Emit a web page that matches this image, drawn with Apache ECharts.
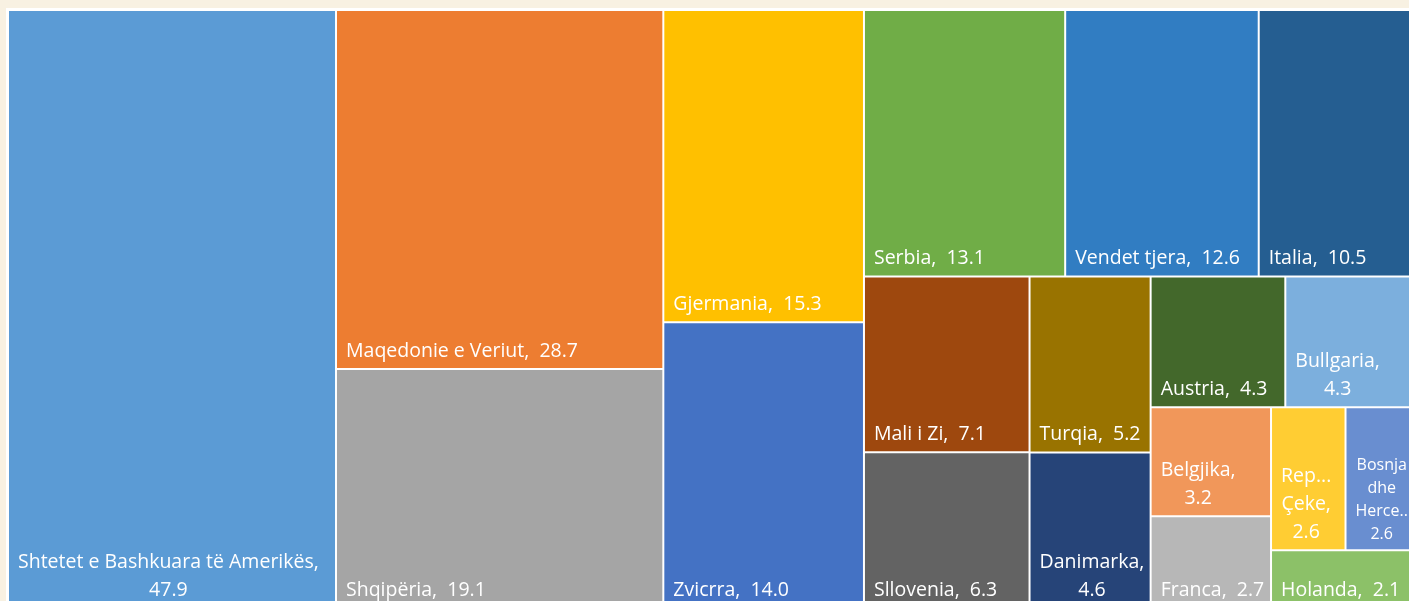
<!DOCTYPE html>
<html>
<head>
<meta charset="utf-8">
<script src="https://cdn.jsdelivr.net/npm/echarts@6/dist/echarts.min.js"></script>
<style>
  html, body { margin: 0; padding: 0; background: #f8f1e2; }
  #main { width: 1409px; height: 601px; }
</style>
</head>
<body>
<div id="main"></div>
<script>
// vendet (renditja si ne grafik)
var vendet = ['Shtetet e Bashkuara të Amerikës', 'Maqedonie e Veriut', 'Shqipëria', 'Gjermania', 'Zvicrra',
  'Serbia', 'Vendet tjera', 'Italia', 'Mali i Zi', 'Sllovenia', 'Turqia', 'Danimarka', 'Austria',
  'Bullgaria', 'Belgjika', 'Franca', 'Republika Çeke', 'Bosnja dhe Hercegovina', 'Holanda'];
var vlerat = [47.9, 28.7, 19.1, 15.3, 14.0, 13.1, 12.6, 10.5, 7.1, 6.3, 5.2, 4.6, 4.3, 4.3, 3.2, 2.7, 2.6, 2.6, 2.1];
var ngjyrat = ['#5b9bd5', '#ed7d31', '#a5a5a5', '#ffc000', '#4472c4', '#70ad47', '#317dc2', '#255e91',
  '#9e480e', '#636363', '#997300', '#264478', '#43682b', '#7cafdd', '#f1975a', '#b7b7b7', '#ffcd33',
  '#698ed0', '#8cc168'];
// etiketat ashtu si shfaqen (me rreshta te thyer), {v} = vlera
var etiketat = ['Shtetet e Bashkuara të Amerikës,\n{v}', 'Maqedonie e Veriut,  {v}', 'Shqipëria,  {v}',
  'Gjermania,  {v}', 'Zvicrra,  {v}', 'Serbia,  {v}', 'Vendet tjera,  {v}', 'Italia,  {v}',
  'Mali i Zi,  {v}', 'Sllovenia,  {v}', 'Turqia,  {v}', 'Danimarka,\n{v}', 'Austria,  {v}',
  'Bullgaria,\n{v}', 'Belgjika,\n{v}', 'Franca,  {v}', 'Rep...\nÇeke,\n{v}', 'Bosnja\ndhe\nHerce..\n{v}',
  'Holanda,  {v}'];

// grupimi (indekse) qe jep te njejten ndarje si ne Excel
var r5 = [[16, 17], 18];
var r4 = [[14, 15], r5];
var r3 = [[12, 13], r4];
var l2 = [[10, 11], r3];
var poshte = [[8, 9], l2];
var pjesa = [[5, 6, 7], poshte];
var r2 = [[3, 4], pjesa];
var r1 = [[1, 2], r2];
var grupet = [0, r1];

var fonti = '"Open Sans", sans-serif';
var ctx = document.createElement('canvas').getContext('2d');

function gjethe(i) {
  var fs = i === 17 ? 16 : 19.5;
  var lh = i === 17 ? 23 : 28;
  var tekst = etiketat[i].replace('{v}', vlerat[i].toFixed(1));
  ctx.font = fs + 'px ' + fonti;
  var w = 0;
  tekst.split('\n').forEach(function (r) { w = Math.max(w, ctx.measureText(r).width); });
  return {
    name: vendet[i],
    value: vlerat[i],
    tekst: tekst,
    itemStyle: { color: ngjyrat[i], borderWidth: 1, borderColor: '#fff' },
    label: { fontSize: fs, lineHeight: lh, align: 'center', offset: [w / 2, 6] }
  };
}

function ndertoj(g) {
  if (typeof g === 'number') return gjethe(g);
  return { name: '', children: g.map(ndertoj) };
}

var myChart = echarts.init(document.getElementById('main'));
myChart.setOption({
  backgroundColor: '#f8f1e2',
  animation: false,
  series: [{
    type: 'treemap',
    left: 6, top: 8, width: 1416, height: 602,
    roam: false,
    nodeClick: false,
    breadcrumb: { show: false },
    sort: false,
    squareRatio: 0.5,
    visibleMin: 0,
    itemStyle: { borderWidth: 0, gapWidth: 0, borderColor: '#fff' },
    levels: [{ itemStyle: { borderWidth: 2, gapWidth: 0, borderColor: '#fff' } }],
    upperLabel: { show: false },
    label: {
      show: true,
      position: 'insideBottomLeft',
      distance: 9,
      padding: 0,
      color: '#fff',
      fontFamily: fonti,
      overflow: 'none',
      formatter: function (p) { return p.data.tekst; }
    },
    emphasis: { disabled: true },
    data: ndertoj(grupet).children
  }]
});
</script>
</body>
</html>
